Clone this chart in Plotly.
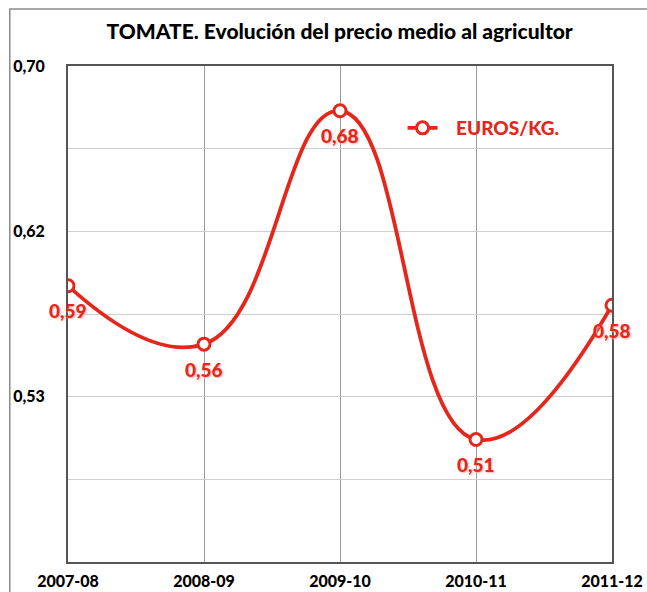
import plotly.graph_objects as go

# precio medio al agricultor, euros/kg
campaigns = ["2007-08", "2008-09", "2009-10", "2010-11", "2011-12"]
prices = [0.587, 0.557, 0.677, 0.508, 0.577]

y_grid = [0.445, 0.4875, 0.53, 0.5725, 0.615, 0.6575, 0.70]
y_labels = ["", "", "0,53", "", "0,62", "", "0,70"]

RED = "#e5261b"
FONT = "Lato, DejaVu Sans, sans-serif"

fig = go.Figure()
fig.add_trace(go.Scatter(
    x=campaigns, y=prices,
    mode="lines+markers", name="\u00a0\u00a0\u00a0EUROS/KG.",
    line=dict(color=RED, width=3.8, shape="spline", smoothing=1.3),
    marker=dict(symbol="circle", size=12, color="white",
                line=dict(color=RED, width=3)),
))

# value labels under each point
for c, p in zip(campaigns, prices):
    fig.add_annotation(
        x=c, y=p, text=f"{p:.2f}".replace(".", ","),
        showarrow=False, yshift=-25,
        font=dict(family=FONT, size=19, color=RED, weight=900,
                  shadow="1px 1px 2px #f4b0a8"),
    )

# outer frame of the graphic
fig.add_shape(type="rect", xref="paper", yref="paper",
              x0=-0.107, x1=1.2, y0=-0.2, y1=1.115,
              line=dict(color="#8a8a8a", width=1.5), layer="below")

fig.update_layout(
    width=647, height=592,
    margin=dict(l=68, r=35, t=66, b=30, autoexpand=False),
    paper_bgcolor="white", plot_bgcolor="white",
    title=dict(text="TOMATE. Evolución del precio medio al agricultor",
               x=0.525, xanchor="center", y=0.946, yanchor="middle",
               font=dict(family=FONT, size=21, color="black", weight=900)),
    legend=dict(x=0.615, y=0.875, xanchor="left", yanchor="middle",
                bgcolor="rgba(0,0,0,0)",
                font=dict(family=FONT, size=19, color=RED, weight=900)),
    showlegend=True,
)
fig.update_xaxes(
    type="category", range=[0, 4], automargin=False,
    showgrid=True, gridcolor="#9a9a9a", gridwidth=1,
    showline=True, linecolor="#555555", linewidth=2, mirror=True,
    tickfont=dict(family=FONT, size=16, color="black", weight=900),
    ticks="", ticklabelstandoff=4, fixedrange=True,
)
fig.update_yaxes(
    range=[0.445, 0.70], tickvals=y_grid, ticktext=y_labels, automargin=False,
    showgrid=True, gridcolor="#cfcfcf", gridwidth=1, zeroline=False,
    showline=True, linecolor="#555555", linewidth=2, mirror=True,
    tickfont=dict(family=FONT, size=16, color="black", weight=900),
    ticks="", ticklabelstandoff=18,
)

# drop the default body margin so the figure fills the window
fig.write_html("out.html", config={"displayModeBar": False},
               post_script="document.body.style.margin = '0';")
